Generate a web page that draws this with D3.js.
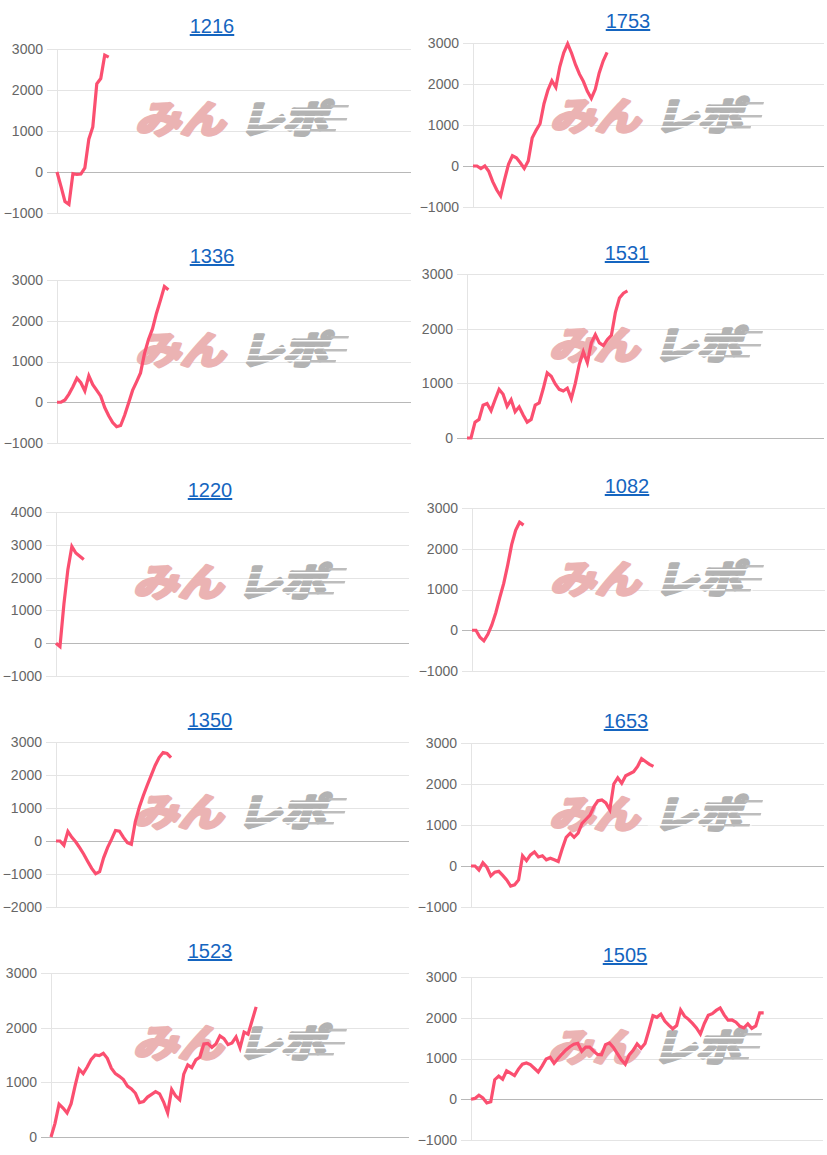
<!DOCTYPE html>
<html><head><meta charset="utf-8">
<script src="https://cdn.jsdelivr.net/npm/d3@7"></script>
<style>
html,body{margin:0;padding:0;background:#fff;}
svg{display:block;font-family:"Liberation Sans",Arial,sans-serif;}
</style></head>
<body>
<svg id="c" width="827" height="1155"></svg>
<script>
// ---------------- data ----------------
const titles = ["1216","1753","1336","1531","1220","1082","1350","1653","1523","1505"];
const slotCount = 90;

const s1216 = [0,-350,-720,-790,-40,-60,-50,100,800,1100,2150,2280,2850,2800];
const s1753 = [0,0,-65,0,-130,-380,-580,-730,-330,40,250,200,80,-60,120,680,870,1030,1520,1850,2080,1920,2420,2760,2980,2750,2470,2240,2060,1820,1650,1870,2270,2560,2770];
const s1336 = [0,0,55,200,380,590,480,280,650,430,290,150,-130,-330,-500,-600,-570,-320,-20,290,500,720,1200,1540,1800,2180,2500,2840,2760];
const s1531 = [0,0,290,340,600,630,500,700,890,800,580,700,480,570,420,290,340,600,640,900,1190,1130,990,890,860,910,720,1000,1350,1580,1380,1740,1890,1740,1690,1800,1880,2300,2560,2650,2690];
const s1220 = [0,-100,1200,2250,2950,2750,2650,2550];
const s1082 = [0,0,-170,-260,-100,130,430,800,1150,1600,2100,2450,2650,2580];
const s1350 = [0,0,-130,290,110,-30,-210,-400,-620,-830,-990,-930,-510,-200,50,320,300,110,-50,-100,590,1020,1370,1690,1990,2290,2530,2680,2650,2530];
const s1653 = [0,0,-100,80,-30,-240,-150,-130,-230,-340,-490,-460,-340,250,130,270,340,220,250,150,190,150,110,420,700,800,700,800,1040,1140,1240,1450,1590,1610,1540,1370,2000,2150,2020,2200,2250,2300,2430,2620,2550,2480,2430];
const s1523 = [0,250,600,530,440,610,940,1240,1160,1280,1420,1500,1490,1530,1440,1260,1160,1110,1050,930,880,800,630,650,730,780,830,790,640,440,870,750,680,1150,1320,1270,1410,1460,1700,1710,1640,1700,1850,1800,1690,1720,1830,1630,1920,1880,2130,2380];
const s1505 = [0,20,100,30,-90,-60,480,570,490,700,640,580,740,860,890,850,760,670,820,990,1030,880,1000,1110,1210,1290,1350,1370,1180,1280,1280,1180,1100,1090,1340,1380,1270,1120,970,860,1090,1200,1360,1250,1370,1700,2050,2010,2090,1920,1820,1730,1810,2190,2040,1960,1860,1750,1600,1860,2060,2100,2180,2240,2070,1940,1945,1890,1790,1750,1850,1740,1800,2120,2120];

const ticksA = [-1000,0,1000,2000,3000];
const ticksB = [0,1000,2000,3000];
const ticksC = [-1000,0,1000,2000,3000,4000];
const ticksD = [-2000,-1000,0,1000,2000,3000];

const seriesList = [s1216,s1753,s1336,s1531,s1220,s1082,s1350,s1653,s1523,s1505];
const tickList = [ticksA,ticksA,ticksA,ticksB,ticksC,ticksA,ticksD,ticksA,ticksB,ticksA];

// ---------------- layout (positions only) ----------------
const layout = [
  {L:57, R:411, top:49,  bot:213,  tx:212, ty:33,  wx:133, wy:133},
  {L:473,R:824, top:43,  bot:207,  tx:628, ty:28,  wx:548, wy:130},
  {L:57, R:411, top:280, bot:443,  tx:212, ty:263, wx:133, wy:364},
  {L:467,R:824, top:274, bot:438,  tx:627, ty:260, wx:547, wy:359},
  {L:56, R:409, top:512, bot:676,  tx:210, ty:497, wx:131, wy:596},
  {L:472,R:825, top:508, bot:671,  tx:627, ty:493, wx:548, wy:593},
  {L:56, R:409, top:742, bot:907,  tx:210, ty:727, wx:131, wy:826},
  {L:471,R:824, top:743, bot:907,  tx:626, ty:728, wx:547, wy:828},
  {L:51, R:409, top:973, bot:1137, tx:210, ty:958, wx:131, wy:1057},
  {L:471,R:823, top:977, bot:1140, tx:625, ty:962, wx:546, wy:1061}
];

const lineColor = "#fb4f70";
const svg = d3.select("#c");

titles.forEach((t, k) => {
  const lay = layout[k];
  const vals = seriesList[k];
  const ticks = tickList[k];
  const g = svg.append("g");

  const x = d3.scaleLinear().domain([0, slotCount - 1]).range([lay.L, lay.R]);
  const y = d3.scaleLinear().domain([d3.min(ticks), d3.max(ticks)]).range([lay.bot, lay.top]);

  // gridlines via axis
  const ax = d3.axisLeft(y).tickValues(ticks).tickSize(-(lay.R - lay.L + 10)).tickPadding(4)
    .tickFormat(d3.format("d"));
  const axg = g.append("g").attr("transform", `translate(${lay.L - 10},0)`).call(ax);
  axg.select(".domain").remove();
  axg.selectAll(".tick line")
    .attr("stroke", d => d === 0 ? "#b8b8b8" : "#e4e4e4")
    .attr("stroke-width", 1)
    .attr("shape-rendering", "crispEdges");
  axg.selectAll(".tick text")
    .attr("fill", "#666")
    .attr("font-size", 14)
    .attr("font-family", "'Liberation Sans', Arial, sans-serif");

  // left axis line
  g.append("line")
    .attr("x1", lay.L).attr("x2", lay.L)
    .attr("y1", lay.top).attr("y2", lay.bot)
    .attr("stroke", "#e4e4e4").attr("shape-rendering", "crispEdges");

  // watermark
  const wm = g.append("g").attr("transform", `translate(${lay.wx},${lay.wy}) skewX(-16)`);
  wm.append("text").text("みん")
    .attr("x", 2).attr("y", 0)
    .attr("font-family", "'Noto Sans CJK JP'").attr("font-weight", 700)
    .attr("font-size", 38)
    .attr("textLength", 90).attr("lengthAdjust", "spacingAndGlyphs")
    .attr("fill", "#ebb3b3").attr("stroke", "#ebb3b3").attr("stroke-width", 3.5)
    .attr("stroke-linejoin", "round");
  wm.append("text").text("レポ")
    .attr("x", 106).attr("y", 0)
    .attr("font-family", "'Noto Sans CJK JP'").attr("font-weight", 700)
    .attr("font-size", 38)
    .attr("textLength", 88).attr("lengthAdjust", "spacingAndGlyphs")
    .attr("fill", "#b3b3b3").attr("stroke", "#b3b3b3").attr("stroke-width", 3.5)
    .attr("stroke-linejoin", "round");
  [-24, -17, -10, -4].forEach(dy => {
    wm.append("rect").attr("x", 100).attr("y", dy).attr("width", 104).attr("height", 1.5)
      .attr("fill", "#fff");
  });
  [[-28, 190, 18], [-15, 186, 24], [-4, 176, 26]].forEach(r => {
    wm.append("rect").attr("x", r[1]).attr("y", r[0]).attr("width", r[2]).attr("height", 2.5)
      .attr("fill", "#bdbdbd");
  });

  // series line
  const line = d3.line().x((d, i) => x(i)).y(d => y(d));
  g.append("path").datum(vals)
    .attr("d", line)
    .attr("fill", "none")
    .attr("stroke", lineColor)
    .attr("stroke-width", 3.2)
    .attr("stroke-linejoin", "miter");

  // title (link style)
  g.append("text").text(t)
    .attr("x", lay.tx).attr("y", lay.ty)
    .attr("text-anchor", "middle")
    .attr("font-size", 20)
    .attr("fill", "#1565c0")
    .attr("text-decoration", "underline");
});
</script>
</body></html>
